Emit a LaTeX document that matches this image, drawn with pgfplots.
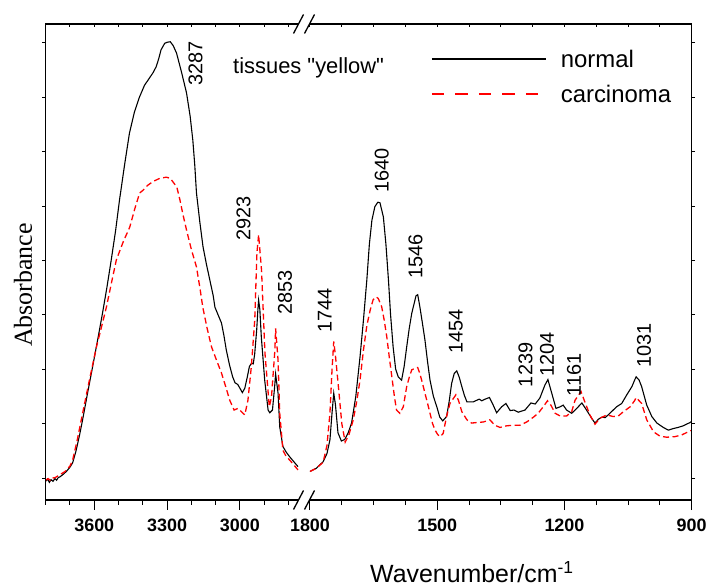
\documentclass[border=0pt]{standalone}
\usepackage{fontspec}
\setmainfont{Liberation Sans}
\newfontfamily\plainsans{Liberation Sans}[Ligatures=TeXOff]
\newfontfamily\seriffont{Liberation Serif}
\usepackage{pgfplots}
\usepackage{pgfplotstable}
\pgfplotsset{compat=1.18}

% FTIR spectra, high-wavenumber window (3800-2760 cm^-1)
\pgfplotstableread{
w A
3800 -0.006
3792 -0.002
3785 -0.008
3778 -0.003
3770 -0.006
3762 -0.001
3755 -0.004
3748 0.001
3742 0.002
3730 0.006
3715 0.012
3700 0.020
3689 0.028
3675 0.050
3660 0.080
3648 0.107
3628 0.155
3607 0.204
3586 0.254
3566 0.303
3548 0.350
3530 0.401
3512 0.455
3496 0.511
3475 0.576
3455 0.634
3435 0.672
3414 0.700
3393 0.722
3373 0.735
3358 0.745
3345 0.756
3335 0.770
3325 0.787
3310 0.799
3300 0.801
3287 0.802
3275 0.795
3261 0.781
3240 0.745
3220 0.708
3205 0.665
3194 0.621
3186 0.575
3179 0.524
3165 0.470
3152 0.425
3138 0.393
3124 0.364
3110 0.335
3103 0.314
3090 0.300
3076 0.285
3066 0.262
3056 0.235
3043 0.208
3030 0.186
3020 0.175
3009 0.172
3000 0.165
2990 0.157
2980 0.165
2970 0.185
2961 0.205
2952 0.211
2945 0.210
2939 0.229
2931 0.272
2926 0.310
2923 0.327
2918 0.310
2912 0.260
2898 0.180
2884 0.125
2877 0.120
2866 0.125
2857 0.168
2853 0.191
2843 0.156
2836 0.094
2823 0.058
2810 0.048
2795 0.039
2778 0.030
2761 0.021
}\normalhigh

\pgfplotstableread{
w A
3800 -0.004
3790 -0.001
3780 -0.005
3770 0.000
3760 0.001
3742 0.006
3720 0.012
3700 0.022
3689 0.033
3670 0.070
3648 0.119
3620 0.180
3591 0.241
3570 0.278
3550 0.314
3530 0.357
3509 0.401
3480 0.435
3454 0.461
3433 0.495
3413 0.524
3399 0.529
3380 0.538
3358 0.545
3330 0.551
3303 0.553
3287 0.551
3282 0.548
3260 0.535
3247 0.511
3235 0.485
3220 0.456
3200 0.420
3179 0.388
3165 0.350
3153 0.314
3135 0.275
3117 0.241
3095 0.215
3076 0.193
3060 0.170
3042 0.143
3024 0.125
3008 0.128
2994 0.122
2980 0.116
2967 0.143
2953 0.205
2939 0.290
2930 0.414
2923 0.447
2911 0.382
2897 0.230
2879 0.131
2870 0.149
2856 0.235
2853 0.275
2843 0.217
2836 0.119
2823 0.051
2810 0.040
2795 0.033
2778 0.024
2761 0.015
}\carcinomahigh

% fingerprint window (1800-900 cm^-1)
\pgfplotstableread{
w A
1800 0.012
1785 0.018
1769 0.030
1760 0.045
1753 0.070
1748 0.120
1744 0.156
1740 0.135
1734 0.083
1726 0.068
1718 0.071
1710 0.083
1702 0.101
1692 0.150
1682 0.223
1674 0.290
1666 0.364
1660 0.430
1654 0.474
1647 0.499
1640 0.507
1635 0.506
1627 0.480
1621 0.430
1615 0.364
1610 0.300
1604 0.241
1598 0.200
1592 0.186
1584 0.180
1578 0.205
1572 0.241
1566 0.275
1560 0.303
1550 0.335
1546 0.337
1541 0.315
1535 0.285
1529 0.254
1523 0.215
1517 0.180
1509 0.150
1501 0.131
1494 0.112
1487 0.105
1478 0.113
1472 0.140
1466 0.174
1460 0.192
1454 0.197
1448 0.185
1442 0.168
1436 0.152
1430 0.140
1415 0.140
1401 0.145
1395 0.142
1387 0.145
1377 0.148
1368 0.134
1360 0.120
1348 0.131
1338 0.137
1328 0.124
1319 0.125
1309 0.121
1293 0.125
1279 0.138
1269 0.136
1258 0.147
1246 0.171
1239 0.181
1230 0.156
1220 0.128
1210 0.131
1203 0.134
1195 0.125
1183 0.119
1171 0.128
1159 0.138
1148 0.125
1136 0.110
1128 0.101
1120 0.108
1112 0.112
1104 0.111
1097 0.116
1085 0.125
1077 0.131
1065 0.137
1053 0.153
1041 0.168
1034 0.181
1031 0.186
1024 0.180
1018 0.168
1006 0.134
994 0.113
982 0.101
967 0.093
955 0.088
943 0.091
932 0.093
920 0.096
904 0.102
900 0.104
}\normallow

\pgfplotstableread{
w A
1800 0.012
1785 0.018
1769 0.029
1760 0.060
1753 0.119
1748 0.200
1744 0.251
1740 0.225
1733 0.168
1725 0.100
1717 0.066
1708 0.080
1698 0.107
1690 0.140
1682 0.180
1674 0.235
1666 0.280
1658 0.309
1651 0.328
1644 0.333
1639 0.330
1631 0.315
1625 0.290
1619 0.260
1613 0.222
1607 0.186
1601 0.150
1596 0.125
1588 0.119
1580 0.131
1572 0.168
1566 0.185
1560 0.199
1548 0.203
1546 0.203
1541 0.192
1535 0.175
1529 0.156
1523 0.138
1517 0.119
1511 0.100
1505 0.088
1499 0.080
1493 0.076
1486 0.082
1478 0.113
1470 0.137
1456 0.153
1450 0.143
1442 0.122
1430 0.107
1419 0.101
1407 0.102
1391 0.103
1376 0.107
1364 0.097
1352 0.093
1336 0.096
1321 0.097
1305 0.097
1289 0.103
1273 0.112
1262 0.119
1250 0.131
1240 0.142
1232 0.134
1222 0.119
1210 0.114
1195 0.114
1183 0.122
1175 0.143
1161 0.159
1152 0.140
1140 0.116
1128 0.099
1116 0.110
1100 0.116
1085 0.113
1073 0.114
1061 0.122
1045 0.131
1034 0.143
1031 0.148
1018 0.137
1006 0.107
990 0.085
975 0.077
959 0.075
940 0.076
924 0.079
908 0.085
900 0.088
}\carcinomalow

\tikzset{
  peak/.style={rotate=90, font=\fontsize{20}{22}\selectfont, inner sep=0pt},
}
\pgfplotsset{
  base/.style={
    scale only axis, height=476bp, anchor=south west,
    ymin=-0.0404, ymax=0.8346, x dir=reverse,
    axis line style={draw=none}, clip=false,
    tick style={black, line width=1bp},
    /pgf/number format/assume math mode=true,
    /pgf/number format/1000 sep={},
  },
  leftpart/.style={at={(45.7bp,88bp)}, width=252.5bp, xmin=2760, xmax=3800,
    xtick={3600,3300,3000}, minor xtick={3800,3700,3500,3400,3200,3100,2900,2800}},
  rightpart/.style={at={(310bp,88bp)}, width=381.7bp, xmin=900, xmax=1800,
    xtick={1800,1500,1200,900},
    minor xtick={1725,1650,1575,1425,1350,1275,1125,1050,975}},
  mainticks/.style={xtick pos=bottom, tick align=outside,
    major tick length=10bp, minor tick length=5bp, ytick=\empty,
    xticklabel style={font=\fontsize{18}{20}\selectfont\bfseries,
      anchor=north, inner sep=0pt, yshift=-9bp}},
  topticks/.style={xtick pos=top, tick align=inside,
    major tick length=3bp, minor tick length=3bp, ytick=\empty,
    xticklabels={}},
  yticksonly/.style={xtick=\empty, ytick={0,0.1,0.2,0.3,0.4,0.5,0.6,0.7,0.8},
    tick align=outside, major tick length=3.5bp, yticklabels={}},
  normal/.style={black, line width=1.1bp},
  carcinoma/.style={red, line width=1.3bp, dash pattern=on 6bp off 3.5bp},
}

\begin{document}
\begin{tikzpicture}
\path[use as bounding box] (0,0) rectangle (710bp,588bp);

% left window
\begin{axis}[base, leftpart, mainticks]
  \addplot[normal] table[x=w, y=A] {\normalhigh};
  \addplot[carcinoma] table[x=w, y=A] {\carcinomahigh};
  \draw[line width=1.5bp, line join=miter] (rel axis cs:1,0) -- (rel axis cs:0,0)
     -- (rel axis cs:0,1) -- (rel axis cs:1,1);
  \node[peak] at (axis cs:3183,0.762) {3287};
  \node[peak] at (axis cs:2985,0.477) {2923};
  \node[peak] at (axis cs:2814,0.341) {2853};
\end{axis}
\begin{axis}[base, leftpart, topticks]\end{axis}
\begin{axis}[base, leftpart, yticksonly, ytick pos=left]\end{axis}

% right window
\begin{axis}[base, rightpart, mainticks,
    legend image code/.code={\draw[#1] (0bp,0bp) -- (114bp,0bp);},
    legend style={draw=none, fill=none, at={(0.316,0.950)}, anchor=north west,
      font=\fontsize{24}{28}\selectfont, cells={anchor=west},
      row sep=12bp, inner sep=0pt,
      /tikz/every odd column/.append style={column sep=12bp}}]
  \addlegendimage{black, line width=2bp}
  \addlegendentry{normal}
  \addlegendimage{red, line width=2bp, dash pattern=on 12.5bp off 11bp}
  \addlegendentry{carcinoma}
  \addplot[normal, forget plot] table[x=w, y=A] {\normallow};
  \addplot[carcinoma, forget plot] table[x=w, y=A] {\carcinomalow};
  \draw[line width=1.5bp, line join=miter] (rel axis cs:0,0) -- (rel axis cs:1,0)
     -- (rel axis cs:1,1) -- (rel axis cs:0,1);
  \node[peak] at (axis cs:1765,0.308) {1744};
  \node[peak] at (axis cs:1631,0.566) {1640};
  \node[peak] at (axis cs:1551,0.407) {1546};
  \node[peak] at (axis cs:1456,0.270) {1454};
  \node[peak] at (axis cs:1292,0.208) {1239};
  \node[peak] at (axis cs:1241,0.227) {1204};
  \node[peak] at (axis cs:1177.5,0.190) {1161};
  \node[peak] at (axis cs:1012.5,0.243) {1031};
\end{axis}
\begin{axis}[base, rightpart, topticks]\end{axis}
\begin{axis}[base, rightpart, yticksonly, ytick pos=right]\end{axis}

% axis break marks
\foreach \x in {298.5,309.5}{
  \foreach \y in {88,564}{
    \draw[line width=1.3bp] (\x bp-5bp,\y bp-9.5bp) -- (\x bp+5bp,\y bp+9.5bp);
  }
}

% titles and axis labels
\node[anchor=base west, inner sep=0pt, font=\plainsans\fontsize{22}{24}\selectfont]
  at (233bp,514bp) {tissues "yellow"};
\node[anchor=base west, inner sep=0pt, font=\fontsize{25}{28}\selectfont]
  at (370bp,6bp) {Wavenumber/cm\textsuperscript{-1}};
\node[rotate=90, inner sep=0pt, font=\seriffont\fontsize{26}{28}\selectfont]
  at (23bp,303bp) {Absorbance};
\end{tikzpicture}
\end{document}
